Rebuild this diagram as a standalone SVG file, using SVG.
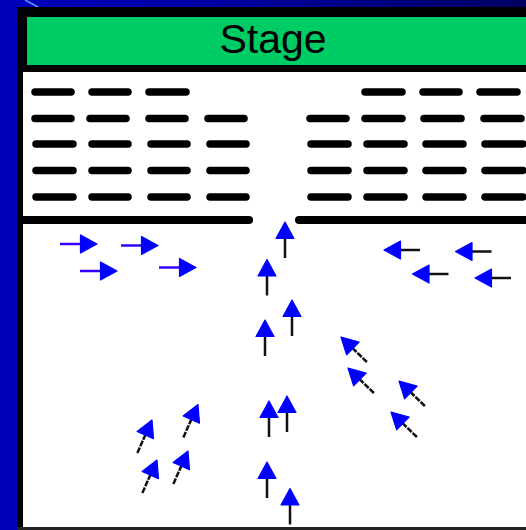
<svg xmlns="http://www.w3.org/2000/svg" xmlns:xlink="http://www.w3.org/1999/xlink" width="526" height="530" viewBox="0 0 526 530">
<style>
.seat{stroke:#000;stroke-width:7.5;stroke-linecap:round}
.barrier{stroke:#000;stroke-width:8;stroke-linecap:round}
.head{fill:#0000ff;stroke:#0000ff;stroke-width:1.2;stroke-linejoin:round}
.shaftK{stroke:#111;stroke-width:2.5}
.shaftB{stroke:#3300ff;stroke-width:2.5}
.shaftD{stroke:#111;stroke-width:2.5;stroke-dasharray:6 1.2}
.label{font-family:"Liberation Sans",Arial,sans-serif;font-size:41px;fill:#000}
</style>
<defs>
<linearGradient id="bg" x1="0" y1="0" x2="1" y2="0">
<stop offset="0" stop-color="#0000bb"/>
<stop offset="0.4" stop-color="#0000a4"/>
<stop offset="1" stop-color="#000062"/>
</linearGradient>
<g id="arrK"><line class="shaftK" x1="-36" y1="0" x2="-14" y2="0"/><path class="head" d="M0,0 L-16.5,-9 L-16.5,9 Z"/></g>
<g id="arrB"><line class="shaftB" x1="-37" y1="0" x2="-14" y2="0"/><path class="head" d="M0,0 L-16.5,-9 L-16.5,9 Z"/></g>
<g id="arrD"><line class="shaftD" x1="-36" y1="0" x2="-14" y2="0"/><path class="head" d="M0,0 L-16.5,-9 L-16.5,9 Z"/></g>
</defs>
<rect x="0" y="0" width="526" height="530" fill="url(#bg)"/>
<line x1="25" y1="0" x2="38" y2="7" stroke="#5599ff" stroke-width="1.5"/>
<g id="frame">
<rect x="17" y="7" width="509" height="523" fill="#000"/>
<rect x="23" y="72" width="503" height="455" fill="#fff"/>
<rect x="0" y="527" width="526" height="3" fill="#222"/>
<rect x="0" y="0" width="17" height="530" fill="#0000bb"/>
</g>
<g id="stage">
<rect x="27" y="17" width="499" height="48" fill="#00cc66"/>
<text class="label" x="273" y="52.5" text-anchor="middle">Stage</text>
</g>
<g id="seats">
<line class="seat" x1="35" y1="92" x2="71" y2="92"/>
<line class="seat" x1="92" y1="92" x2="128" y2="92"/>
<line class="seat" x1="149" y1="92" x2="186" y2="92"/>
<line class="seat" x1="35" y1="118.5" x2="71" y2="118.5"/>
<line class="seat" x1="90" y1="118.5" x2="126" y2="118.5"/>
<line class="seat" x1="149" y1="118.5" x2="185" y2="118.5"/>
<line class="seat" x1="208" y1="118.5" x2="244" y2="118.5"/>
<line class="seat" x1="36" y1="144" x2="73" y2="144"/>
<line class="seat" x1="92" y1="144" x2="128" y2="144"/>
<line class="seat" x1="151" y1="144" x2="187" y2="144"/>
<line class="seat" x1="210" y1="144" x2="246" y2="144"/>
<line class="seat" x1="36" y1="170.5" x2="73" y2="170.5"/>
<line class="seat" x1="92" y1="170.5" x2="128" y2="170.5"/>
<line class="seat" x1="151" y1="170.5" x2="187" y2="170.5"/>
<line class="seat" x1="210" y1="170.5" x2="246" y2="170.5"/>
<line class="seat" x1="36" y1="197" x2="73" y2="197"/>
<line class="seat" x1="92" y1="197" x2="128" y2="197"/>
<line class="seat" x1="151" y1="197" x2="187" y2="197"/>
<line class="seat" x1="210" y1="197" x2="246" y2="197"/>
<line class="seat" x1="365" y1="92" x2="402" y2="92"/>
<line class="seat" x1="423" y1="92" x2="459" y2="92"/>
<line class="seat" x1="480" y1="92" x2="517" y2="92"/>
<line class="seat" x1="310" y1="118.5" x2="346" y2="118.5"/>
<line class="seat" x1="365" y1="118.5" x2="402" y2="118.5"/>
<line class="seat" x1="424" y1="118.5" x2="461" y2="118.5"/>
<line class="seat" x1="484" y1="118.5" x2="521" y2="118.5"/>
<line class="seat" x1="311" y1="144" x2="348" y2="144"/>
<line class="seat" x1="367" y1="144" x2="404" y2="144"/>
<line class="seat" x1="426" y1="144" x2="463" y2="144"/>
<line class="seat" x1="485" y1="144" x2="523" y2="144"/>
<line class="seat" x1="311" y1="170.5" x2="348" y2="170.5"/>
<line class="seat" x1="367" y1="170.5" x2="404" y2="170.5"/>
<line class="seat" x1="426" y1="170.5" x2="463" y2="170.5"/>
<line class="seat" x1="485" y1="170.5" x2="523" y2="170.5"/>
<line class="seat" x1="311" y1="197" x2="348" y2="197"/>
<line class="seat" x1="367" y1="197" x2="404" y2="197"/>
<line class="seat" x1="426" y1="197" x2="463" y2="197"/>
<line class="seat" x1="485" y1="197" x2="523" y2="197"/>
<line class="barrier" x1="23" y1="220" x2="249" y2="220"/>
<line class="barrier" x1="299" y1="220" x2="530" y2="220"/>
</g>
<g id="arrows">
<use xlink:href="#arrB" transform="translate(97,244)"/>
<use xlink:href="#arrB" transform="translate(158,245.5)"/>
<use xlink:href="#arrB" transform="translate(117,271)"/>
<use xlink:href="#arrB" transform="translate(196,267.5)"/>
<use xlink:href="#arrK" transform="translate(384,250) rotate(180)"/>
<use xlink:href="#arrK" transform="translate(455.5,251.5) rotate(180)"/>
<use xlink:href="#arrK" transform="translate(412.5,274) rotate(180)"/>
<use xlink:href="#arrK" transform="translate(475,278) rotate(180)"/>
<use xlink:href="#arrK" transform="translate(285,222) rotate(-90)"/>
<use xlink:href="#arrK" transform="translate(267,259.5) rotate(-90)"/>
<use xlink:href="#arrK" transform="translate(292,300) rotate(-90)"/>
<use xlink:href="#arrK" transform="translate(265,320) rotate(-90)"/>
<use xlink:href="#arrK" transform="translate(269,401) rotate(-90)"/>
<use xlink:href="#arrK" transform="translate(287,396) rotate(-90)"/>
<use xlink:href="#arrK" transform="translate(267,462) rotate(-90)"/>
<use xlink:href="#arrK" transform="translate(290,488.5) rotate(-90)"/>
<use xlink:href="#arrD" transform="translate(152,420) rotate(-66)"/>
<use xlink:href="#arrD" transform="translate(198,404.5) rotate(-66)"/>
<use xlink:href="#arrD" transform="translate(157,460) rotate(-66)"/>
<use xlink:href="#arrD" transform="translate(188,451) rotate(-66)"/>
<use xlink:href="#arrD" transform="translate(341,337) rotate(-136)"/>
<use xlink:href="#arrD" transform="translate(348,368) rotate(-136)"/>
<use xlink:href="#arrD" transform="translate(399,381) rotate(-136)"/>
<use xlink:href="#arrD" transform="translate(391,412) rotate(-136)"/>
</g>
</svg>
